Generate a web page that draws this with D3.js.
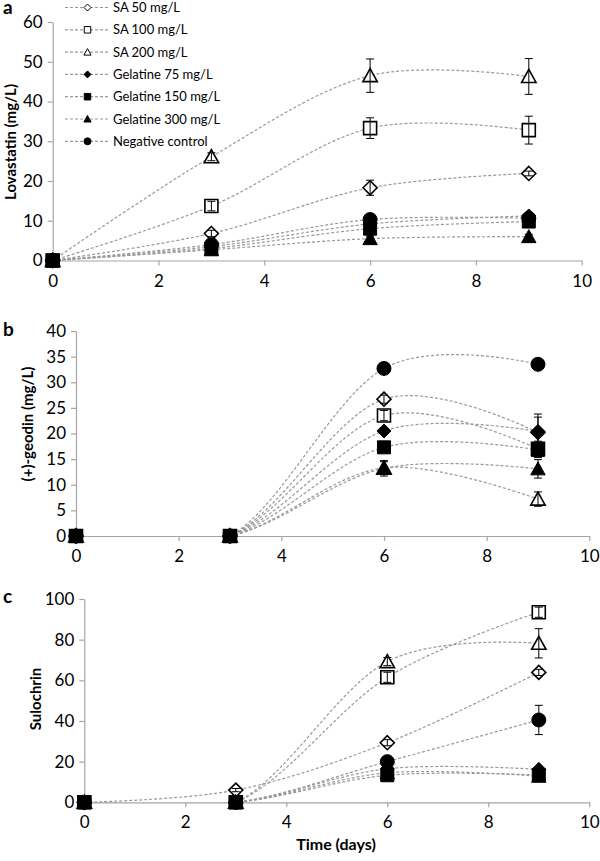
<!DOCTYPE html>
<html>
<head>
<meta charset="utf-8">
<script src="https://cdn.jsdelivr.net/npm/d3@7"></script>
<style>
  body { margin: 0; background: #fff; }
  svg { display: block; font-family: Lato, "Open Sans", sans-serif; }
</style>
</head>
<body>
<script>
// ---------------- DATA ----------------
const days = [0, 3, 6, 9];
const seriesNames = ["SA 50 mg/L", "SA 100 mg/L", "SA 200 mg/L", "Gelatine 75 mg/L", "Gelatine 150 mg/L", "Gelatine 300 mg/L", "Negative control"];

// values per series (order = seriesNames), at days 0,3,6,9
const lovastatinValues = [
  [0, 6.8, 18.3, 21.9],
  [0, 13.7, 33.3, 32.8],
  [0, 26.1, 46.5, 46.3],
  [0, 3.5, 9.2, 11.2],
  [0, 3.0, 8.0, 9.8],
  [0, 2.7, 5.5, 6.0],
  [0, 4.0, 10.3, 10.6]
];
const lovastatinErrors = [
  [0, 0.8, 1.9, 0.6],
  [0, 1.2, 2.6, 3.5],
  [0, 1.0, 4.2, 4.5],
  [0, 0.5, 0.8, 0.6],
  [0, 0.3, 0.8, 0.6],
  [0, 0.3, 0.6, 0.6],
  [0, 0.4, 0.9, 0.7]
];
const geodinValues = [
  [0, 0, 26.7, 20.2],
  [0, 0, 23.5, 17.0],
  [0, 0, 13.3, 7.2],
  [0, 0, 20.5, 20.4],
  [0, 0, 17.3, 16.8],
  [0, 0, 13.2, 13.1],
  [0, 0, 32.7, 33.5]
];
const geodinErrors = [
  [0, 0, 0.8, 3.0],
  [0, 0, 1.0, 1.5],
  [0, 0, 1.2, 1.4],
  [0, 0, 0.6, 3.4],
  [0, 0, 0.8, 1.5],
  [0, 0, 1.5, 1.8],
  [0, 0, 0.5, 0.5]
];
const sulochrinValues = [
  [0, 6.0, 29.3, 63.9],
  [0, 0, 61.5, 93.5],
  [0, 0, 69.2, 78.2],
  [0, 0, 16.5, 16.2],
  [0, 0, 13.3, 13.4],
  [0, 0, 14.5, 12.8],
  [0, 0, 20.0, 40.5]
];
const sulochrinErrors = [
  [0, 0.8, 1.5, 1.5],
  [0, 0, 2.5, 2.5],
  [0, 0, 2.0, 7.2],
  [0, 0, 0.5, 0.5],
  [0, 0, 0.5, 0.5],
  [0, 0, 0.5, 0.5],
  [0, 0, 1.0, 7.2]
];
const xTicks = [0, 2, 4, 6, 8, 10];
const lovastatinTicks = [0, 10, 20, 30, 40, 50, 60];
const geodinTicks = [0, 5, 10, 15, 20, 25, 30, 35, 40];
const sulochrinTicks = [0, 20, 40, 60, 80, 100];

// ---------------- STYLE ----------------
const shapes = ["diamond", "square", "triangle", "diamond", "square", "triangle", "circle"];
const fills = ["#fff", "#fff", "#fff", "#000", "#000", "#000", "#000"];
const axisColor = "#a6a6a6";
const lineColor = "#999999";

function markerPath(shape, k) {
  const p = d3.path();
  if (shape === "diamond") {
    const s = 7 * k;
    p.moveTo(0, -s); p.lineTo(s, 0); p.lineTo(0, s); p.lineTo(-s, 0); p.closePath();
  } else if (shape === "square") {
    const s = 6.5 * k;
    p.rect(-s, -s, 2 * s, 2 * s);
  } else if (shape === "triangle") {
    p.moveTo(0, -7 * k); p.lineTo(7.2 * k, 6 * k); p.lineTo(-7.2 * k, 6 * k); p.closePath();
  } else {
    p.arc(0, 0, 7 * k, 0, 2 * Math.PI);
  }
  return p.toString();
}

const svg = d3.select("body").append("svg").attr("width", 600).attr("height", 861);

const panels = [
  { id: "a", values: lovastatinValues, errors: lovastatinErrors, ticks: lovastatinTicks, yMax: 60,
    left: 52.7, right: 581.7, bottom: 260.5, top: 22, title: "Lovastatin (mg/L)", tx: 16, ty: 142, lx: 3, ly: 14 },
  { id: "b", values: geodinValues, errors: geodinErrors, ticks: geodinTicks, yMax: 40,
    left: 76, right: 589.3, bottom: 536, top: 331, title: "(+)-geodin (mg/L)", tx: 33, ty: 424, lx: 3, ly: 336 },
  { id: "c", values: sulochrinValues, errors: sulochrinErrors, ticks: sulochrinTicks, yMax: 100,
    left: 84.3, right: 589.3, bottom: 802.3, top: 599, title: "Sulochrin", tx: 41, ty: 699, lx: 3, ly: 603 }
];

panels.forEach(P => {
  const g = svg.append("g");
  const x = d3.scaleLinear().domain([0, 10]).range([P.left, P.right]);
  const y = d3.scaleLinear().domain([0, P.yMax]).range([P.bottom, P.top]);

  // clip for lines
  svg.append("clipPath").attr("id", "clip-" + P.id)
    .append("rect").attr("x", P.left).attr("y", P.top)
    .attr("width", P.right - P.left).attr("height", P.bottom - P.top);

  // axes
  const yAxis = g.append("g").attr("transform", `translate(${P.left},0)`)
    .call(d3.axisLeft(y).tickValues(P.ticks).tickSize(5).tickSizeOuter(0).tickPadding(5));
  const xAxis = g.append("g").attr("transform", `translate(0,${P.bottom})`)
    .call(d3.axisBottom(x).tickValues(xTicks).tickSize(5).tickSizeOuter(0).tickPadding(9));
  [yAxis, xAxis].forEach(a => {
    a.select(".domain").attr("stroke", axisColor).attr("stroke-width", 1.2);
    a.selectAll(".tick line").attr("stroke", axisColor).attr("stroke-width", 1.2);
    a.selectAll(".tick text").attr("fill", "#000").style("font-size", "17px").style("font-family", "Lato");
  });

  // y title
  g.append("text").attr("transform", `translate(${P.tx},${P.ty}) rotate(-90)`)
    .attr("text-anchor", "middle").style("font-size", "15px").style("font-weight", "bold")
    .style("font-family", "Lato").text(P.title);
  // panel letter
  g.append("text").attr("x", P.lx).attr("y", P.ly).style("font-size", "19px")
    .style("font-weight", "bold").style("font-family", "Lato").text(P.id);

  // lines
  const line = d3.line().x((d, i) => x(days[i])).y(d => y(d)).curve(d3.curveCardinal.tension(0));
  const lg = g.append("g").attr("clip-path", `url(#clip-${P.id})`);
  P.values.forEach(vals => {
    lg.append("path").attr("d", line(vals)).attr("fill", "none")
      .attr("stroke", lineColor).attr("stroke-width", 1.2).attr("stroke-dasharray", "3,2");
  });

  // markers
  P.values.forEach((vals, s) => {
    vals.forEach((v, i) => {
      g.append("path").attr("d", markerPath(shapes[s], 1))
        .attr("transform", `translate(${x(days[i])},${y(v)})`)
        .attr("fill", fills[s]).attr("stroke", "#000").attr("stroke-width", fills[s] === "#fff" ? 1.6 : 1);
    });
  });

  // error bars
  P.values.forEach((vals, s) => {
    vals.forEach((v, i) => {
      const e = P.errors[s][i];
      if (!e) return;
      const cx = x(days[i]);
      const eg = g.append("g").attr("stroke", "#000").attr("stroke-width", 1);
      eg.append("line").attr("x1", cx).attr("x2", cx).attr("y1", y(v - e)).attr("y2", y(v + e));
      eg.append("line").attr("x1", cx - 4).attr("x2", cx + 4).attr("y1", y(v - e)).attr("y2", y(v - e));
      eg.append("line").attr("x1", cx - 4).attr("x2", cx + 4).attr("y1", y(v + e)).attr("y2", y(v + e));
    });
  });
});

// x title (bottom)
svg.append("text").attr("x", 336).attr("y", 850).attr("text-anchor", "middle")
  .style("font-size", "16px").style("font-weight", "bold").style("font-family", "Lato").text("Time (days)");

// legend
const leg = svg.append("g");
seriesNames.forEach((name, i) => {
  const yy = 7.5 + 22.3 * i;
  leg.append("line").attr("x1", 65).attr("x2", 110).attr("y1", yy).attr("y2", yy)
    .attr("stroke", lineColor).attr("stroke-width", 1.2).attr("stroke-dasharray", "3,2");
  leg.append("path").attr("d", markerPath(shapes[i], 0.5))
    .attr("transform", `translate(87.5,${yy})`)
    .attr("fill", fills[i]).attr("stroke", "#000").attr("stroke-width", 1);
  leg.append("text").attr("x", 113).attr("y", yy).attr("dy", "0.35em")
    .style("font-size", "13px").style("font-family", "Lato").attr("fill", "#000").text(name);
});
</script>
</body>
</html>
